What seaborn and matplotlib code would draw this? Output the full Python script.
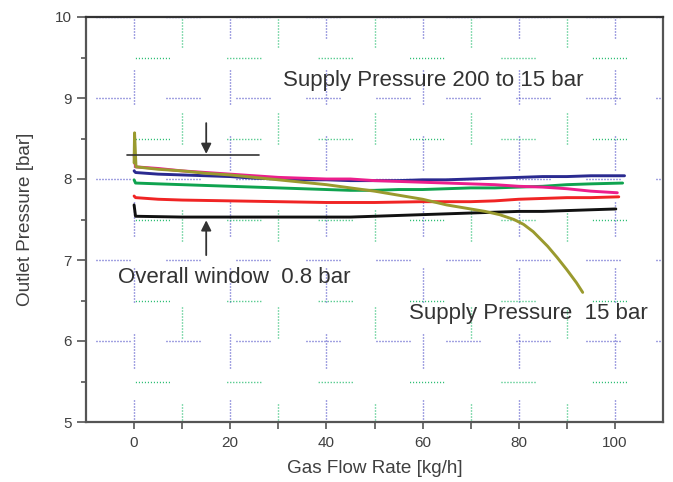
import matplotlib
matplotlib.use("Agg")
import matplotlib.pyplot as plt
import seaborn as sns
import pandas as pd
from matplotlib.ticker import FixedLocator

# ---------------- data ----------------
blue_x = [0, 0.3, 5, 10, 15, 20, 25, 30, 35, 40, 45, 50, 55, 60, 65, 70, 75, 80, 85, 90, 95, 100, 102]
blue_y = [8.10, 8.08, 8.06, 8.05, 8.04, 8.03, 8.01, 8.00, 7.99, 7.99, 7.98, 7.98, 7.98, 7.99, 7.99, 8.00, 8.01, 8.02, 8.03, 8.03, 8.04, 8.04, 8.04]

pink_x = [0, 0.3, 5, 10, 15, 20, 25, 30, 35, 40, 45, 50, 55, 60, 65, 70, 75, 80, 85, 90, 95, 100.5]
pink_y = [8.30, 8.15, 8.13, 8.10, 8.08, 8.06, 8.04, 8.02, 8.01, 8.00, 8.00, 7.98, 7.97, 7.96, 7.95, 7.94, 7.93, 7.91, 7.90, 7.88, 7.85, 7.83]

green_x = [0, 0.3, 5, 10, 20, 30, 40, 45, 50, 55, 60, 65, 70, 75, 80, 85, 90, 95, 101.6]
green_y = [7.99, 7.95, 7.94, 7.93, 7.91, 7.89, 7.87, 7.86, 7.86, 7.87, 7.87, 7.88, 7.89, 7.89, 7.90, 7.91, 7.93, 7.94, 7.95]

red_x = [0, 0.3, 5, 10, 20, 30, 40, 50, 60, 70, 75, 80, 85, 90, 95, 100.8]
red_y = [7.79, 7.77, 7.75, 7.74, 7.73, 7.72, 7.71, 7.71, 7.72, 7.72, 7.73, 7.75, 7.76, 7.77, 7.77, 7.78]

black_x = [0, 0.3, 10, 20, 30, 40, 45, 50, 55, 60, 65, 70, 75, 80, 85, 90, 95, 100.2]
black_y = [7.68, 7.54, 7.53, 7.53, 7.53, 7.53, 7.53, 7.54, 7.55, 7.56, 7.57, 7.58, 7.59, 7.60, 7.60, 7.61, 7.62, 7.63]

olive_x = [0, 0.1, 0.4, 5, 10, 15, 20, 25, 30, 35, 40, 45, 50, 55, 60, 65, 70, 73, 76, 79, 81, 83, 86, 88, 90, 92, 93.3]
olive_y = [8.20, 8.57, 8.15, 8.12, 8.10, 8.07, 8.05, 8.02, 7.99, 7.96, 7.93, 7.89, 7.85, 7.80, 7.75, 7.68, 7.63, 7.60, 7.56, 7.50, 7.44, 7.35, 7.17, 7.03, 6.88, 6.72, 6.60]

series_names = ["black", "red", "green", "blue", "pink", "olive"]
series_colors = ["#111111", "#f02424", "#0fa34f", "#2a2a90", "#ec1e8c", "#9a9a2e"]

x_major = [0, 20, 40, 60, 80, 100]
x_minor = [10, 30, 50, 70, 90]
y_major = [5, 6, 7, 8, 9, 10]
y_minor = [5.5, 6.5, 7.5, 8.5, 9.5]

# ---------------- figure ----------------
sns.set_theme(style="white")
plt.rcParams["font.family"] = ["Liberation Sans", "DejaVu Sans"]
plt.rcParams["lines.scale_dashes"] = False

fig = plt.figure(figsize=(6.73, 4.82), dpi=100)
W, H = 673, 482
L, R, T, B = 86, 663, 17, 422
ax = fig.add_axes([L / W, 1 - B / H, (R - L) / W, (B - T) / H])

frames = []
for name, xs, ys in [("black", black_x, black_y), ("red", red_x, red_y),
                     ("green", green_x, green_y), ("blue", blue_x, blue_y),
                     ("pink", pink_x, pink_y), ("olive", olive_x, olive_y)]:
    frames.append(pd.DataFrame({"x": xs, "y": ys, "s": name}))
df = pd.concat(frames, ignore_index=True)

sns.lineplot(data=df, x="x", y="y", hue="s", hue_order=series_names,
             palette=dict(zip(series_names, series_colors)),
             estimator=None, sort=False, linewidth=2.1, legend=False,
             ax=ax, zorder=3)

ax.set_xlim(-10, 110)
ax.set_ylim(5, 10)
ax.xaxis.set_major_locator(FixedLocator(x_major))
ax.xaxis.set_minor_locator(FixedLocator(x_minor))
ax.yaxis.set_major_locator(FixedLocator(y_major))
ax.yaxis.set_minor_locator(FixedLocator(y_minor))


def dots(n, period_px):
    seq = []
    for _ in range(n):
        seq += [0.72, 1.44]
    seq[-1] = period_px * 0.72 - (n * 0.72 + (n - 1) * 1.44)
    return seq


gblue = "#4646c4"
ggreen = "#18b866"
ax.grid(True, which="major", axis="x", color=gblue, linewidth=1.0,
        linestyle=(12 * 0.72, dots(12, 66)))
ax.grid(True, which="major", axis="y", color=gblue, linewidth=1.0,
        linestyle=(60 * 0.72, dots(12, 70)))
ax.grid(True, which="minor", axis="x", color=ggreen, linewidth=1.0,
        linestyle=(13 * 0.72, dots(11, 97)))
ax.grid(True, which="minor", axis="y", color=ggreen, linewidth=1.0,
        linestyle=(42 * 0.72, dots(12, 91.4)))
ax.set_axisbelow(True)

for side, sp in ax.spines.items():
    sp.set_visible(True)
    sp.set_color("#555555")
    sp.set_linewidth(1.6)
ax.spines["top"].set_color("#333333")

ax.tick_params(axis="y", which="major", direction="out", length=6.5, width=1.2,
               color="#555555", labelsize=11, labelcolor="#404040", pad=4, left=True)
ax.tick_params(axis="y", which="minor", direction="out", length=3.6, width=1.2,
               color="#555555", left=True)
ax.tick_params(axis="x", which="major", direction="out", length=5, width=1.2,
               color="#555555", labelsize=11, labelcolor="#404040", pad=5, bottom=True)
ax.tick_params(axis="x", which="minor", direction="out", length=5, width=1.2,
               color="#555555", bottom=True)

ax.set_xlabel("Gas Flow Rate [kg/h]", fontsize=13.6, color="#404040", labelpad=7)
ax.set_ylabel("Outlet Pressure [bar]", fontsize=13.6, color="#404040", labelpad=15)

# annotations
ax.plot([-1.5, 26], [8.3, 8.3], color="#333333", lw=1.2, zorder=4)
ax.annotate("", xy=(15, 8.31), xytext=(15, 8.69),
            arrowprops=dict(arrowstyle="-|>", color="#333333", lw=1.3,
                            mutation_scale=15, shrinkA=0, shrinkB=0), zorder=5)
ax.annotate("", xy=(15, 7.49), xytext=(15, 7.06),
            arrowprops=dict(arrowstyle="-|>", color="#333333", lw=1.3,
                            mutation_scale=15, shrinkA=0, shrinkB=0), zorder=5)

tc = "#333333"
ax.text(31.06, 9.152, "Supply Pressure 200 to 15 bar", fontsize=16, color=tc,
        ha="left", va="baseline", zorder=6)
ax.text(-3.4, 6.71, "Overall window  0.8 bar", fontsize=16, color=tc,
        ha="left", va="baseline", zorder=6)
ax.text(57.2, 6.268, "Supply Pressure  15 bar", fontsize=16, color=tc,
        ha="left", va="baseline", zorder=6)

fig.savefig("out.png", dpi=100)
